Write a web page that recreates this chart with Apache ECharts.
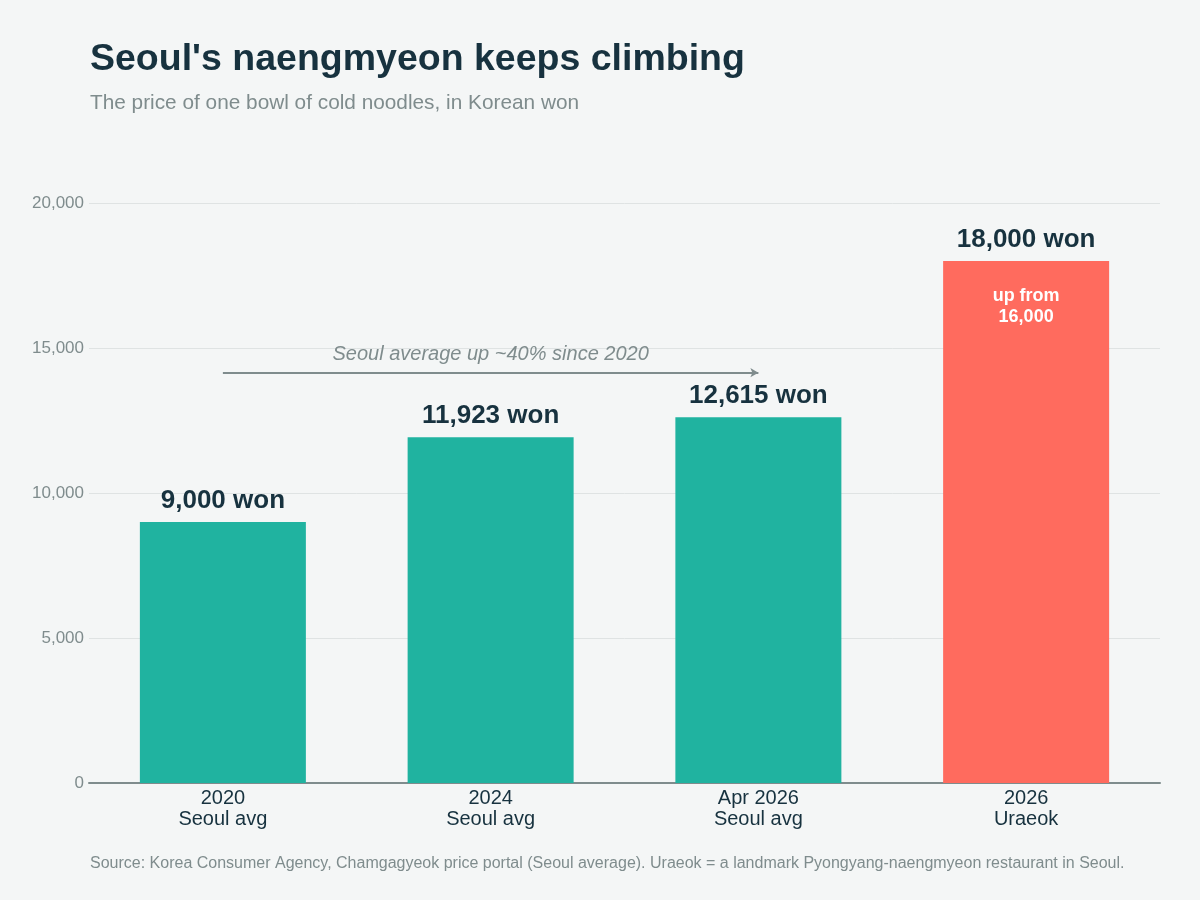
<!DOCTYPE html>
<html>
<head>
<meta charset="utf-8">
<script src="https://cdn.jsdelivr.net/npm/echarts@6/dist/echarts.min.js"></script>
<style>
  html, body { margin: 0; padding: 0; background: #f4f6f6; }
  #main { width: 1200px; height: 900px; }
</style>
</head>
<body>
<div id="main"></div>
<script>
// data
const categories = ['2020\nSeoul avg', '2024\nSeoul avg', 'Apr 2026\nSeoul avg', '2026\nUraeok'];
const prices = [9000, 11923, 12615, 18000];
const barColors = ['#20b3a0', '#20b3a0', '#20b3a0', '#ff6b5e'];
const yTicks = [0, 5000, 10000, 15000, 20000];
const noteValues = [null, null, null, 18000];
const noteText = 'up from\n16,000';
const arrowLevel = 14150;
const arrowText = 'Seoul average up ~40% since 2020';

const dark = '#17323f';
const grey = '#7f8c8d';
const font = '"Liberation Sans", Arial, sans-serif';

let myChart = echarts.init(document.getElementById('main'));

let option = {
  backgroundColor: '#f4f6f6',
  textStyle: { fontFamily: font },
  title: [
    {
      text: "Seoul's naengmyeon keeps climbing",
      left: 90, top: 41, padding: 0,
      textStyle: { fontSize: 37.5, fontWeight: 'bold', color: dark, fontFamily: font }
    },
    {
      text: 'The price of one bowl of cold noodles, in Korean won',
      left: 90, top: 93, padding: 0,
      textStyle: { fontSize: 20.8, fontWeight: 'normal', color: grey, fontFamily: font }
    },
    {
      text: 'Source: Korea Consumer Agency, Chamgagyeok price portal (Seoul average). Uraeok = a landmark Pyongyang-naengmyeon restaurant in Seoul.',
      left: 90, top: 856, padding: 0,
      textStyle: { fontSize: 16, fontWeight: 'normal', color: grey, fontFamily: font }
    }
  ],
  grid: { left: 89, right: 40, top: 203, bottom: 117, containLabel: false },
  xAxis: {
    type: 'category',
    data: categories,
    axisLine: { lineStyle: { color: grey, width: 2 } },
    axisTick: { show: false },
    axisLabel: { fontSize: 20, color: dark, lineHeight: 21, margin: 5, fontFamily: font }
  },
  yAxis: {
    type: 'value',
    min: yTicks[0],
    max: yTicks[yTicks.length - 1],
    interval: 5000,
    axisLine: { show: false },
    axisTick: { show: false },
    splitLine: { lineStyle: { color: '#dfe3e3', width: 1 } },
    axisLabel: {
      fontSize: 17, color: grey, margin: 5, fontFamily: font,
      formatter: v => v.toLocaleString('en-US')
    }
  },
  series: [
    {
      type: 'bar',
      barWidth: '62%',
      data: prices.map((v, i) => ({ value: v, itemStyle: { color: barColors[i] } })),
      label: {
        show: true,
        position: 'top',
        distance: 8,
        fontSize: 26,
        fontWeight: 'bold',
        color: dark,
        fontFamily: font,
        formatter: p => p.value.toLocaleString('en-US') + ' won'
      },
      markLine: {
        silent: true,
        symbol: ['none', 'arrow'],
        symbolSize: [7, 8],
        lineStyle: { color: grey, width: 2, type: 'solid' },
        label: {
          show: true,
          position: 'middle',
          formatter: arrowText,
          fontSize: 20,
          fontStyle: 'italic',
          color: grey,
          fontFamily: font,
          distance: 8
        },
        data: [[
          { coord: [categories[0], arrowLevel] },
          { coord: [categories[2], arrowLevel] }
        ]]
      }
    },
    {
      type: 'bar',
      barWidth: '62%',
      barGap: '-100%',
      silent: true,
      data: noteValues,
      itemStyle: { color: 'rgba(0,0,0,0)' },
      label: {
        show: true,
        position: 'insideTop',
        distance: 25,
        fontSize: 18,
        fontWeight: 'bold',
        color: '#ffffff',
        lineHeight: 21,
        fontFamily: font,
        formatter: () => noteText
      }
    }
  ]
};

myChart.setOption(option);
</script>
</body>
</html>
